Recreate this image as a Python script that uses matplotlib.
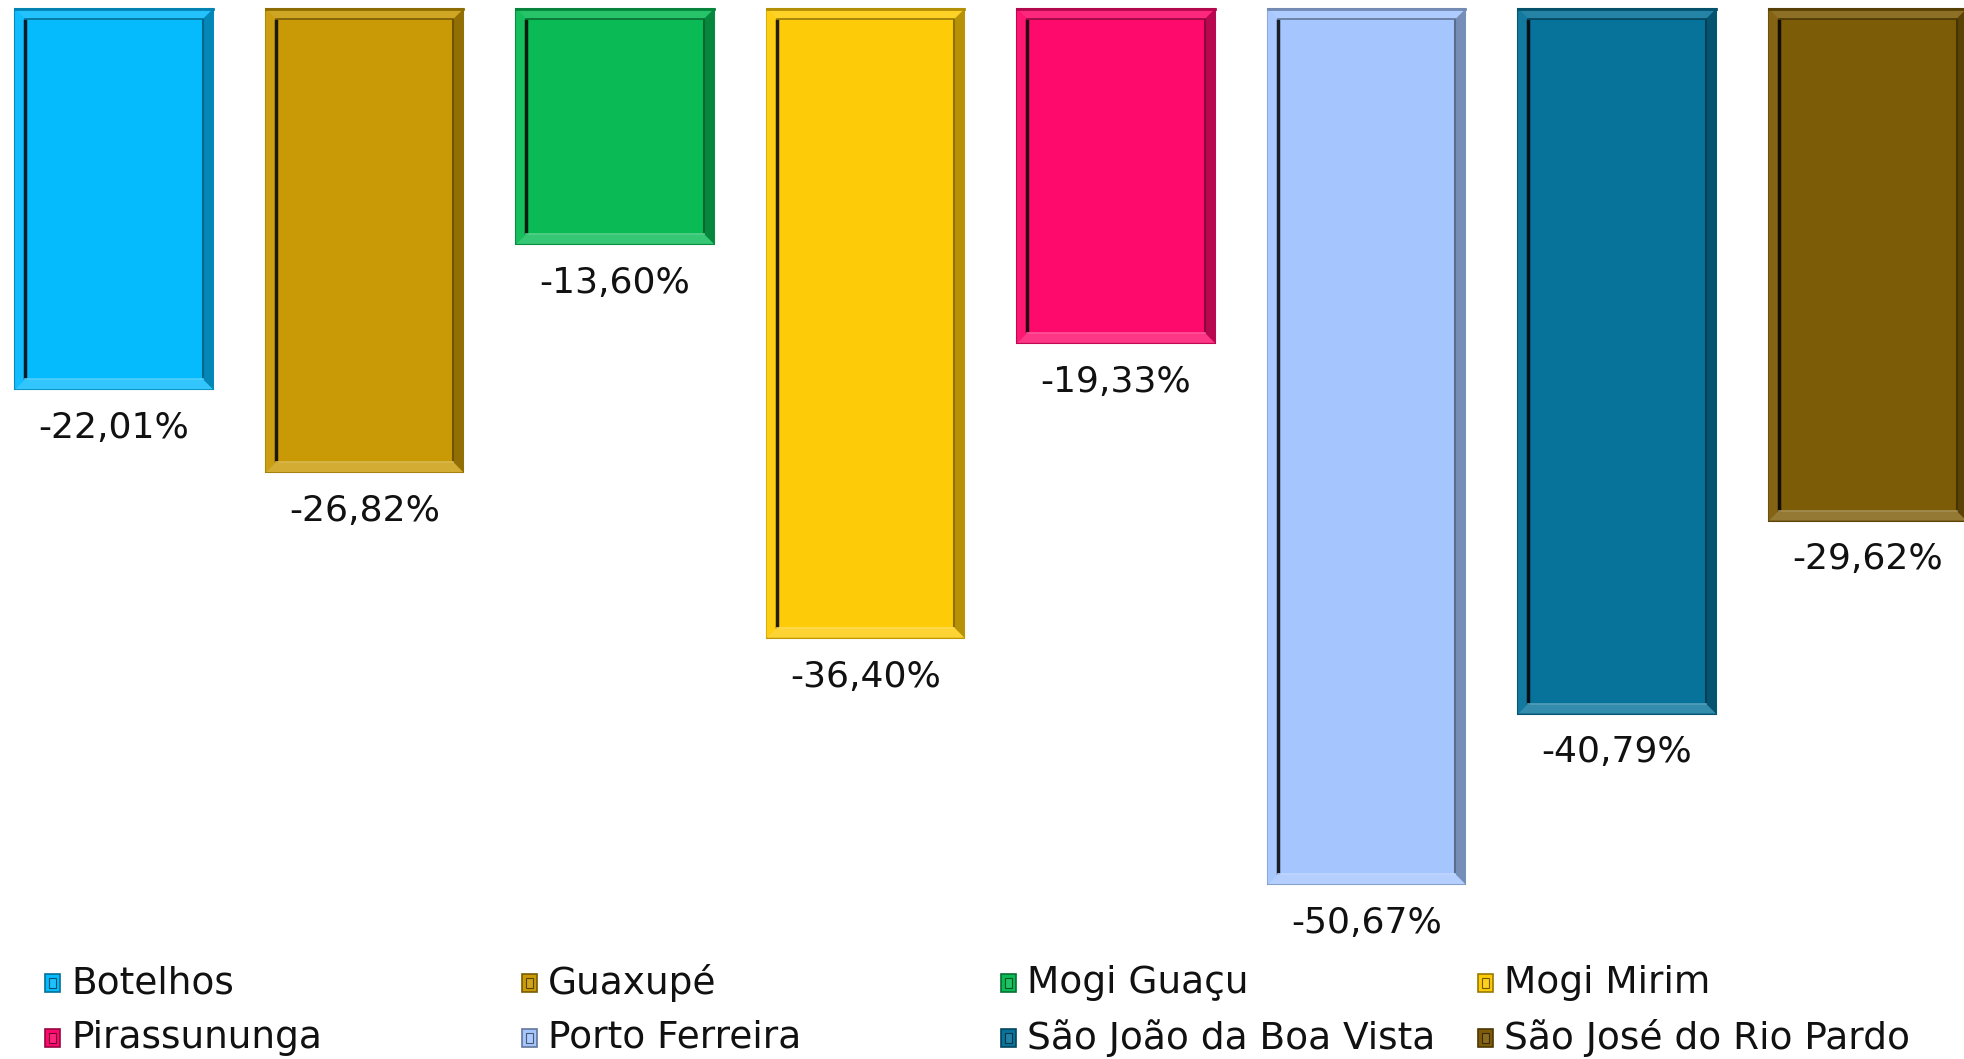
import matplotlib
matplotlib.use("Agg")
import matplotlib.pyplot as plt
from matplotlib.patches import Polygon, Rectangle
import matplotlib.colors as mcolors

# dados
cidades = ["Botelhos", "Guaxupé", "Mogi Guaçu", "Mogi Mirim",
           "Pirassununga", "Porto Ferreira", "São João da Boa Vista", "São José do Rio Pardo"]
variacao = [-22.01, -26.82, -13.60, -36.40, -19.33, -50.67, -40.79, -29.62]
cores = ["#05BAFD", "#C99A06", "#0ABB55", "#FECB08",
         "#FE0A6C", "#A4C5FE", "#07739A", "#7D5C08"]

FONTE = ["DejaVu Sans"]


def tom(c, f):
    r, g, b = mcolors.to_rgb(c)
    if f >= 1:
        return (r + (1 - r) * (f - 1), g + (1 - g) * (f - 1), b + (1 - b) * (f - 1))
    return (r * f, g * f, b * f)


fig = plt.figure(figsize=(19.64, 10.59), dpi=100)
H = 1059
ax = fig.add_axes([0, 1 - 940 / H, 1, 940 / H])
ax.set_xlim(-0.455, 7.385)
ax.set_ylim(-53.9, 0.52)
ax.axis("off")

barras = ax.bar(range(len(cidades)), variacao, width=0.79, color=cores,
                edgecolor=[tom(c, 0.75) for c in cores], linewidth=1.5)

# moldura "bisel" de cada barra
px_x = 7.385 + 0.455
px_y = 53.9 + 0.52
dx = 10 / 1964 * px_x
dy = 10 / 940 * px_y
for b, c in zip(barras, cores):
    x0, x1 = b.get_x(), b.get_x() + b.get_width()
    y0, y1 = b.get_y() + b.get_height(), b.get_y()  # y0 = fundo, y1 = topo (0)
    xi0, xi1, yi0, yi1 = x0 + dx, x1 - dx, y0 + dy, y1 - dy
    lados = [
        ([(x0, y1), (x1, y1), (xi1, yi1), (xi0, yi1)], tom(c, 1.12)),  # topo
        ([(x0, y0), (x1, y0), (xi1, yi0), (xi0, yi0)], tom(c, 1.18)),  # fundo
        ([(x0, y0), (x0, y1), (xi0, yi1), (xi0, yi0)], tom(c, 1.05)),  # esquerda
        ([(x1, y0), (x1, y1), (xi1, yi1), (xi1, yi0)], tom(c, 0.72)),  # direita
    ]
    for pts, cor in lados:
        ax.add_patch(Polygon(pts, closed=True, facecolor=cor, edgecolor="none", zorder=3))
    # sombra interna
    ax.plot([xi0, xi0], [yi0, yi1], color=tom(c, 0.15), lw=2.5, zorder=4,
            solid_capstyle="butt")
    ax.plot([xi1, xi1], [yi0, yi1], color=tom(c, 0.55), lw=1.5, zorder=4,
            solid_capstyle="butt")
    ax.plot([xi0, xi1], [yi1, yi1], color=tom(c, 0.6), lw=1.2, zorder=4)
    ax.plot([xi0, xi1], [yi0, yi0], color=tom(c, 1.3), lw=1.2, zorder=4)
    ax.plot([x0, x1], [y1, y1], color=tom(c, 0.7), lw=2, zorder=4)

    v = b.get_height()
    ax.annotate(f"{v:.2f}%".replace(".", ","), (b.get_x() + b.get_width() / 2, v),
                xytext=(0, -28), textcoords="offset points", ha="center", va="center",
                fontsize=26, family=FONTE, color="#111111")

# legenda em grade 4 x 2
col_x = [45, 522, 1001, 1478]
lin_y = [983, 1038]
for i, (nome, c) in enumerate(zip(cidades, cores)):
    cx = col_x[i % 4]
    cy = lin_y[i // 4]
    fig.add_artist(Rectangle((cx / 1964, 1 - (cy + 9) / H), 15 / 1964, 18 / H,
                             transform=fig.transFigure, facecolor=c,
                             edgecolor=tom(c, 0.6), linewidth=1.2))
    fig.add_artist(Rectangle(((cx + 4) / 1964, 1 - (cy + 5) / H), 7 / 1964, 10 / H,
                             transform=fig.transFigure, facecolor=tom(c, 1.1),
                             edgecolor=tom(c, 0.45), linewidth=0.8))
    fig.text((cx + 26) / 1964, 1 - cy / H, nome, ha="left", va="center",
             fontsize=27, family=FONTE, color="#111111")

fig.savefig("out.png", dpi=100, facecolor="white")
